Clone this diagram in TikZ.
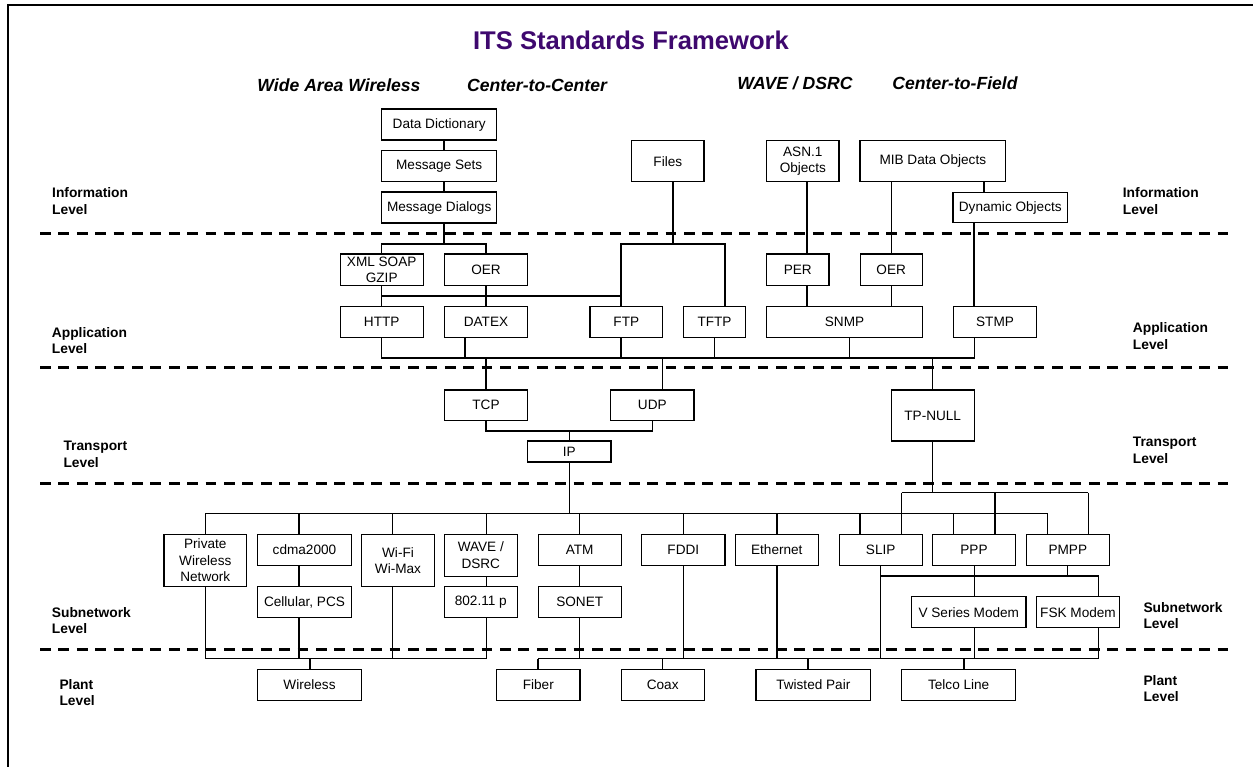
\documentclass[tikz,border=0pt]{standalone}
\usepackage{fontspec}
\setmainfont{Liberation Sans}
\usetikzlibrary{calc}
\definecolor{titlepurple}{RGB}{62,8,110}
\tikzset{
  bx/.style={draw, line width=1.1pt, inner sep=0pt, align=center, font=\fontsize{13.6}{16.6}\selectfont},
  conn/.style={line width=1.1pt},
  lvl/.style={font=\fontsize{13.8}{16.4}\selectfont\bfseries, align=left, anchor=west, inner sep=0pt},
  hdr/.style={font=\fontsize{17.6}{20}\selectfont\bfseries\itshape, inner sep=0pt},
  sepline/.style={line width=3pt, dash pattern=on 10.7pt off 7.7pt},
  frameline/.style={line width=2pt},
}
\newcommand\bxn[6]{\node[bx, minimum width=#4, minimum height=#5] (#1) at (#2,#3) {#6};}
\newcommand\vlink[3]{\coordinate (vx) at (#3,0); \draw[conn] (#1 -| vx) -- (#2 -| vx);}
\begin{document}
\begin{tikzpicture}[x=1pt,y=-1pt]
\useasboundingbox (0,0) rectangle (1253,767);
\fill[white] (0,0) rectangle (1253,767);
% frame
\coordinate (fTL) at (8,5);
\coordinate (fTR) at (1253,5);
\coordinate (fBL) at (8,767);
\draw[frameline] (fTR) -- (fTL) -- (fBL);

% titles
\node[font=\fontsize{25.6}{28}\selectfont\bfseries, text=titlepurple, inner sep=0pt] (title) at (631,40) {ITS Standards Framework};
\node[hdr] (hWAW) at (339,85) {Wide Area Wireless};
\node[hdr] (hC2C) at (537,85) {Center-to-Center};
\node[hdr] (hWAVE) at (795,83) {WAVE / DSRC};
\node[hdr] (hC2F) at (955,83) {Center-to-Field};

% level labels
\node[lvl] (lInfoL) at (52,201) {Information\\Level};
\node[lvl] (lAppL) at (51.7,340.3) {Application\\Level};
\node[lvl] (lTrL) at (63.3,454.3) {Transport\\Level};
\node[lvl] (lSubL) at (51.7,620.5) {Subnetwork\\Level};
\node[lvl] (lPlL) at (59.3,692.7) {Plant\\Level};
\node[lvl] (lInfoR) at (1122.7,201) {Information\\Level};
\node[lvl] (lAppR) at (1132.7,336) {Application\\Level};
\node[lvl] (lTrR) at (1132.7,450.2) {Transport\\Level};
\node[lvl] (lSubR) at (1143.3,615.7) {Subnetwork\\Level};
\node[lvl] (lPlR) at (1143.3,688.7) {Plant\\Level};

% separators
\foreach \yy/\nm in {233.7/s1, 367.3/s2, 483.3/s3, 649/s4} {
  \coordinate (\nm L) at (40,\yy);
  \coordinate (\nm R) at (1232,\yy);
  \draw[sepline] (\nm L) -- (\nm R);
}

% information level boxes
\bxn{dd}{439.2}{124.5}{115}{31}{Data Dictionary}
\bxn{ms}{439.2}{166.3}{115}{31.3}{Message Sets}
\bxn{md}{439.2}{207.5}{115}{31}{Message Dialogs}
\bxn{files}{667.8}{161.3}{72.3}{41.3}{Files}
\bxn{asn}{802.8}{161.3}{72.3}{41.3}{ASN.1\\Objects}
\bxn{mib}{932.8}{161.3}{145.7}{41.3}{MIB Data Objects}
\bxn{dyn}{1010.3}{207.8}{114.7}{30.3}{Dynamic Objects}

% application level boxes
\bxn{xml}{381.7}{269.7}{83.3}{31.3}{XML SOAP\\GZIP}
\bxn{oer1}{486}{269.7}{83.3}{31.3}{OER}
\bxn{per}{797.8}{269.7}{62.3}{31.3}{PER}
\bxn{oer2}{891.2}{269.7}{62.3}{31.3}{OER}
\bxn{http}{381.7}{322}{83.3}{30.7}{HTTP}
\bxn{datex}{486}{322}{83.3}{30.7}{DATEX}
\bxn{ftp}{626.3}{322}{72.7}{30.7}{FTP}
\bxn{tftp}{714.5}{322}{62.3}{30.7}{TFTP}
\bxn{snmp}{844.5}{322}{155.7}{30.7}{SNMP}
\bxn{stmp}{995}{322}{83.3}{30.7}{STMP}

% transport level boxes
\bxn{tcp}{486}{405.3}{83.3}{30.7}{TCP}
\bxn{udp}{652.3}{405.3}{83.3}{30.7}{UDP}
\bxn{ip}{569.3}{451.5}{83.3}{21}{IP}
\bxn{tpnull}{932.7}{415.5}{83.3}{51}{TP-NULL}

% subnetwork level boxes
\bxn{pwn}{205.3}{560.5}{82.7}{52.4}{Private\\Wireless\\Network}
\bxn{cdma}{304.5}{550}{94.3}{31.3}{cdma2000}
\bxn{cell}{304.5}{602}{94.3}{30.7}{Cellular, PCS}
\bxn{wifi}{398}{560.5}{72.7}{52.4}{Wi-Fi\\Wi-Max}
\bxn{wave}{480.8}{555.2}{73}{41.7}{WAVE /\\DSRC}
\bxn{pp}{480.8}{602}{73}{30.7}{802.11 p}
\bxn{atm}{579.7}{550}{83.3}{31.3}{ATM}
\bxn{sonet}{579.7}{602}{83.3}{30.7}{SONET}
\bxn{fddi}{683.3}{550}{83.3}{31.3}{FDDI}
\bxn{eth}{776.8}{550}{83}{31.3}{Ethernet}
\bxn{slip}{880.7}{550}{83.3}{31.3}{SLIP}
\bxn{ppp}{974}{550}{83.3}{31.3}{PPP}
\bxn{pmpp}{1067.8}{550}{83}{31.3}{PMPP}
\bxn{vsm}{968.8}{612.2}{114.3}{31}{V Series Modem}
\bxn{fsk}{1078}{612.2}{82.7}{31}{FSK Modem}

% plant level boxes
\bxn{wireless}{309.5}{684.7}{104.3}{30.7}{Wireless}
\bxn{fiber}{538.3}{684.7}{83.3}{30.7}{Fiber}
\bxn{coax}{662.7}{684.7}{83.3}{30.7}{Coax}
\bxn{tp}{813.3}{684.7}{114.7}{30.7}{Twisted Pair}
\bxn{telco}{958.7}{684.7}{114}{30.7}{Telco Line}

% ---------- connectors ----------
% center-to-center information
\vlink{dd.south}{ms.north}{444}
\vlink{ms.south}{md.north}{444}
\coordinate (jMD) at (444,244);
\draw[conn] (md.south -| jMD) -- (jMD);
\draw[conn] (xml.north) -- (xml.north |- jMD) -- (oer1.north |- jMD) -- (oer1.north);
% files
\coordinate (jF) at (673,244);
\coordinate (jFL) at (621,244);
\coordinate (jFR) at (725,244);
\draw[conn] (files.south -| jF) -- (jF);
\draw[conn] (ftp.north -| jFL) -- (jFL) -- (jFR) -- (tftp.north -| jFR);
% xml/oer to http/datex
\coordinate (jX) at (621,296);
\draw[conn] (xml.south) -- (http.north);
\draw[conn] (xml.south |- jX) -- (jX);
\draw[conn] (oer1.south) -- (datex.north);
% center-to-field
\vlink{asn.south}{per.north}{807}
\vlink{per.south}{snmp.north}{807}
\draw[conn] (mib.south -| oer2.north) -- (oer2.north);
\draw[conn] (oer2.south) -- (snmp.north -| oer2.south);
\vlink{mib.south}{dyn.north}{984}
\vlink{dyn.south}{stmp.north}{974}

% application bus
\coordinate (bAppL) at (381.7,358);
\coordinate (bAppR) at (974.3,358);
\draw[conn] (http.south) -- (bAppL) -- (bAppR) -- (stmp.south -| bAppR);
\vlink{datex.south}{bAppL}{465}
\vlink{ftp.south}{bAppL}{621}
\vlink{tftp.south}{bAppL}{714.3}
\vlink{snmp.south}{bAppL}{849.7}
% to transport
\draw[conn] (tcp.north |- bAppL) -- (tcp.north);
\vlink{bAppL}{udp.north}{662.7}
\draw[conn] (tpnull.north |- bAppL) -- (tpnull.north);
\coordinate (bTr) at (0,431);
\draw[conn] (tcp.south) -- (tcp.south |- bTr) -- (udp.south |- bTr) -- (udp.south);
\draw[conn] (ip.north |- bTr) -- (ip.north);

% subnetwork bus from IP
\coordinate (bSubL) at (205.7,513.3);
\coordinate (bSubR) at (1047.3,513.3);
\draw[conn] (ip.south) -- (ip.south |- bSubL);
\draw[conn] (bSubL) -- (bSubR);
\vlink{bSubL}{pwn.north}{205.7}
\vlink{bSubL}{cdma.north}{299}
\vlink{bSubL}{wifi.north}{392.3}
\vlink{bSubL}{wave.north}{486.3}
\vlink{bSubL}{atm.north}{579.7}
\vlink{bSubL}{fddi.north}{683.7}
\vlink{bSubL}{eth.north}{777}
\vlink{bSubL}{slip.north}{860}
\vlink{bSubL}{ppp.north}{953.3}
\vlink{bSubL}{pmpp.north}{1047.3}

% TP-NULL bus
\coordinate (bTpL) at (901.7,492.7);
\coordinate (bTpR) at (1088.3,492.7);
\draw[conn] (tpnull.south) -- (tpnull.south |- bTpL);
\draw[conn] (bTpL) -- (bTpR);
\vlink{bTpL}{slip.north}{901.7}
\vlink{bTpL}{ppp.north}{995}
\vlink{bTpL}{pmpp.north}{1088.3}

% within subnetwork
\vlink{cdma.south}{cell.north}{299}
\vlink{wave.south}{pp.north}{486.3}
\draw[conn] (atm.south) -- (sonet.north);
\coordinate (bSlL) at (880.7,576);
\coordinate (bSlR) at (1098.7,576);
\draw[conn] (bSlL) -- (bSlR);
\vlink{ppp.south}{vsm.north}{974.3}
\vlink{pmpp.south}{bSlL}{1067.7}
\vlink{bSlL}{fsk.north}{1098.7}

% plant buses
\coordinate (bPl1L) at (205.7,658.7);
\coordinate (bPl1R) at (486.3,658.7);
\coordinate (bPl2L) at (538,658.7);
\coordinate (bPl2R) at (1098.7,658.7);
\draw[conn] (bPl1L) -- (bPl1R);
\draw[conn] (bPl2L) -- (bPl2R);
\vlink{pwn.south}{bPl1L}{205.7}
\vlink{cell.south}{bPl1L}{299}
\vlink{wifi.south}{bPl1L}{392.3}
\vlink{pp.south}{bPl1L}{486.3}
\vlink{bPl1L}{wireless.north}{310}
\vlink{bPl2L}{fiber.north}{538}
\vlink{sonet.south}{bPl2L}{579.7}
\vlink{bPl2L}{coax.north}{662.7}
\vlink{fddi.south}{bPl2L}{683.7}
\vlink{eth.south}{bPl2L}{777}
\vlink{bPl2L}{tp.north}{808}
\vlink{slip.south}{bPl2L}{880.7}
\vlink{bPl2L}{telco.north}{964}
\vlink{vsm.south}{bPl2L}{974.3}
\vlink{fsk.south}{bPl2L}{1098.7}
\end{tikzpicture}
\end{document}
